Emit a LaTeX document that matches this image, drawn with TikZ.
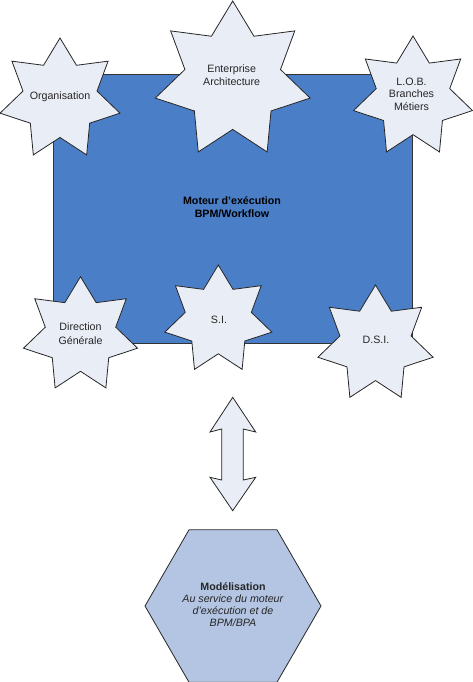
\documentclass[tikz,border=0pt]{standalone}
\usepackage{fontspec}
\setmainfont{Liberation Sans}
\usetikzlibrary{shapes.geometric}
\definecolor{boxblue}{HTML}{4A7EC7}
\definecolor{starfill}{HTML}{E9EDF6}
\definecolor{hexfill}{HTML}{B3C5E2}
\begin{document}
\begin{tikzpicture}[x=1pt,y=-1pt,
  starbox/.style={star, star points=7, star point ratio=1.62, draw=black!85, line width=0.8pt, fill=starfill, inner sep=0pt},
  lbl/.style={align=center, font=\fontsize{10.67}{12.8}\selectfont, inner sep=0pt, text=black!85}]
\useasboundingbox (0,0) rectangle (473,682);
\node[draw=black!80, line width=0.8pt, fill=boxblue, minimum width=359pt, minimum height=269pt, inner sep=0pt] (engine) at (232.5,208.5) {};
\node[lbl, font=\fontsize{10.67}{13}\selectfont\bfseries, text=black] (enginet) at (232,207.5) {Moteur d’exécution\\BPM/Workflow};
\node[starbox, minimum size=123pt] (org) at (60,99.5) {};
\node[lbl] (orgt) at (60,97) {Organisation};
\node[starbox, minimum size=158.8pt] (ea) at (232.7,80.4) {};
\node[lbl] (eat) at (231.7,75.5) {Enterprise\\Architecture};
\node[starbox, minimum size=122pt] (lob) at (413,97) {};
\node[lbl, font=\fontsize{10.67}{12.5}\selectfont] (lobt) at (411.5,94) {L.O.B.\\Branches\\Métiers};
\node[starbox, minimum size=117pt] (dg) at (80.5,335.2) {};
\node[lbl, font=\fontsize{10.67}{14}\selectfont] (dgt) at (80.5,333.7) {Direction\\Générale};
\node[starbox, minimum size=109.8pt] (si) at (218.3,319.9) {};
\node[lbl] (sit) at (219,320) {S.I.};
\node[starbox, minimum size=118.2pt] (dsi) at (375.5,344.1) {};
\node[lbl] (dsit) at (376,340) {D.S.I.};
\draw[draw=black!85, line width=0.8pt, fill=starfill, line join=miter]
  (232.7,397.3) -- (255.7,432) -- (243.3,429) -- (243.3,480) -- (255.7,477.3) -- (232.7,510.7)
  -- (210,477.3) -- (221.7,480) -- (221.7,429) -- (210,432) -- cycle;
\node[regular polygon, regular polygon sides=6, minimum size=176pt, inner sep=0pt, draw=black!85, line width=0.8pt, fill=hexfill] (model) at (233,606) {};
\node[lbl, font=\fontsize{10.67}{11.9}\selectfont] (modelt) at (233,604.7) {\textbf{Modélisation}\\\textit{Au service du moteur}\\\textit{d’exécution et de}\\\textit{BPM/BPA}};
\end{tikzpicture}
\end{document}
